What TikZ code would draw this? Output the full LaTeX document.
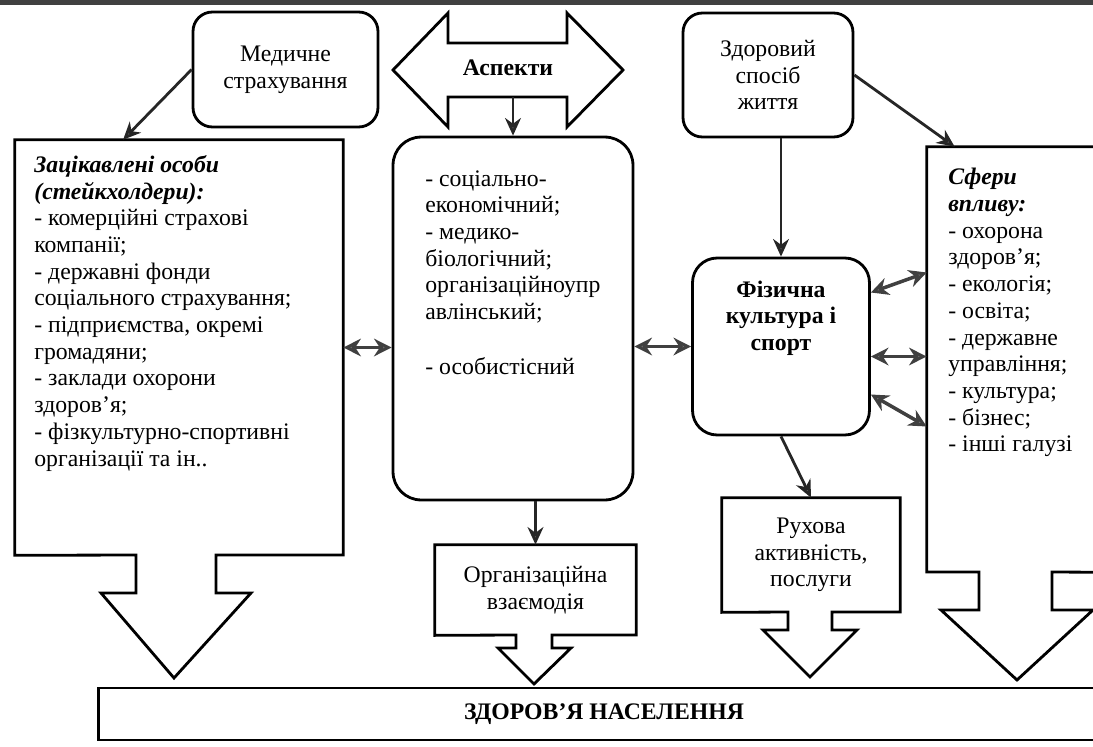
\documentclass[tikz,border=0pt]{standalone}
\usepackage{fontspec}
\setmainfont{Liberation Serif}
\usetikzlibrary{positioning, fit, calc, arrows.meta}

\begin{document}
\begin{tikzpicture}[
  x=0.02cm, y=-0.02cm,
  every node/.style={font=\fontsize{13.5}{15.2}\selectfont},
  rbox/.style={draw, line width=1.6pt, rounded corners=11pt, align=center, inner sep=0pt},
  sbox/.style={draw, line width=1.6pt, align=center, inner sep=0pt},
  shell/.style={draw=none, align=center, inner sep=0pt},
  outl/.style={line width=1.6pt, line join=miter},
  txt/.style={align=left, anchor=north west, inner sep=0pt},
  arr/.style={-{Stealth[length=10pt, width=9pt, fill=black!55]}, line width=1.6pt, draw=black!85},
  biarr/.style={{Stealth[length=10pt, width=10pt, fill=black!55]}-{Stealth[length=10pt, width=10pt, fill=black!55]}, line width=2pt, draw=black!75}
]
  \useasboundingbox (0,0) rectangle (1093,747);
  \clip (0,0) rectangle (1093,747);
  \fill[black!75] (0,0) rectangle (1093,5);

  % top row
  \node[rbox, minimum width=3.7cm, minimum height=2.3cm] (med) at (285.5,69.5) {Медичне\\страхування};
  \draw[outl] (393,70) -- (448,13) -- (448,43) -- (567,43) -- (567,13) -- (623,70)
    -- (567,127) -- (567,97) -- (448,97) -- (448,127) -- cycle;
  \node[font=\fontsize{13.5}{15.2}\selectfont\bfseries] (asp) at (508,68) {Аспекти};
  \coordinate (aspbot) at (513,97);
  \node[rbox, minimum width=3.4cm, minimum height=2.48cm] (zsj) at (768,75) {Здоровий\\спосіб\\життя};

  % stakeholders
  \node[shell, minimum width=6.56cm, minimum height=8.3cm] (stake) at (179,347.5) {};
  \draw[outl] (stake.south west) |- (stake.north east) |- (216,555) -- (216,593) -- (251,593)
    -- (174,678) -- (101,593) -- (136,593) -- (136,555) -- cycle;
  \node[txt] (staketxt) at (34,155) {\textbf{\textit{Зацікавлені особи}}\\\textbf{\textit{(стейкхолдери):}}\\- комерційні страхові\\компанії;\\- державні фонди\\соціального страхування;\\- підприємства, окремі\\громадяни;\\- заклади охорони\\здоров’я;\\- фізкультурно-спортивні\\організації та ін..};

  % aspects
  \node[rbox, rounded corners=16pt, minimum width=4.8cm, minimum height=7.26cm] (aspl) at (513,318.5) {};
  \node[txt] (asptxt) at (425,170) {- соціально-\\економічний;\\- медико-\\біологічний;\\організаційноупр\\авлінський;\\[16pt]- особистісний};

  % physical culture
  \node[rbox, rounded corners=14pt, minimum width=3.54cm, minimum height=3.54cm] (fiz) at (781,346.5) {};
  \node[font=\fontsize{13.5}{15.2}\selectfont\bfseries, align=center] (fiztxt) at (781,318) {Фізична\\культура і\\спорт};

  % spheres
  \node[shell, minimum width=3.66cm, minimum height=8.5cm] (sfer) at (1018.5,359.5) {};
  \draw[outl] (sfer.north east) -- (sfer.north west) |- (979,572) -- (979,610) -- (941,610)
    -- (1017,680) -- (1093,610) -- (1052,610) -- (1052,572) -- (sfer.south east) -- cycle;
  \node[txt] (sfertxt) at (948,168) {\textbf{\textit{Сфери}}\\\textbf{\textit{впливу:}}\\- охорона\\здоров’я;\\- екологія;\\- освіта;\\- державне\\управління;\\- культура;\\- бізнес;\\- інші галузі};

  % outcomes
  \node[shell, minimum width=4.02cm, minimum height=1.8cm] (org) at (535.5,590) {Організаційна\\взаємодія};
  \draw[outl] (org.south west) |- (org.north east) |- (552,635) -- (552,648) -- (571,648)
    -- (534,684) -- (498,648) -- (516,648) -- (516,635) -- cycle;
  \node[shell, minimum width=3.56cm, minimum height=2.28cm] (ruh) at (811,555) {Рухова\\активність,\\послуги};
  \draw[outl] (ruh.south west) |- (ruh.north east) |- (832,612) -- (832,630) -- (857,630)
    -- (810,677) -- (763,630) -- (788,630) -- (788,612) -- cycle;
  \node[sbox, minimum width=20.24cm, minimum height=1.04cm, font=\fontsize{13.5}{15.2}\selectfont\bfseries] (pop) at (604,714) {ЗДОРОВ’Я НАСЕЛЕННЯ};

  % connectors
  \draw[arr] (med.west) -- ($(stake.north west)!0.33!(stake.north east)$);
  \draw[arr] (zsj.east) -- ($(sfer.north west)+(28,0)$);
  \draw[arr] (zsj.south -| fiz.north) -- (fiz.north);
  \draw[arr] (aspbot) -- (aspl.north);
  \draw[arr] (aspl.south -| org.north) -- (org.north);
  \draw[arr] (fiz.south) -- (ruh.north);
  \draw[biarr] (stake.east) -- (stake.east -| aspl.west);
  \draw[biarr] (aspl.east |- fiz.west) -- (fiz.west);
  \draw[biarr] ($(fiz.east)+(0,-54)$) -- ($(sfer.west)+(0,-87)$);
  \draw[biarr] ($(fiz.east)+(0,10)$) -- ($(sfer.west)+(0,-3)$);
  \draw[biarr] ($(fiz.east)+(0,48)$) -- ($(sfer.west)+(0,67)$);
\end{tikzpicture}
\end{document}
